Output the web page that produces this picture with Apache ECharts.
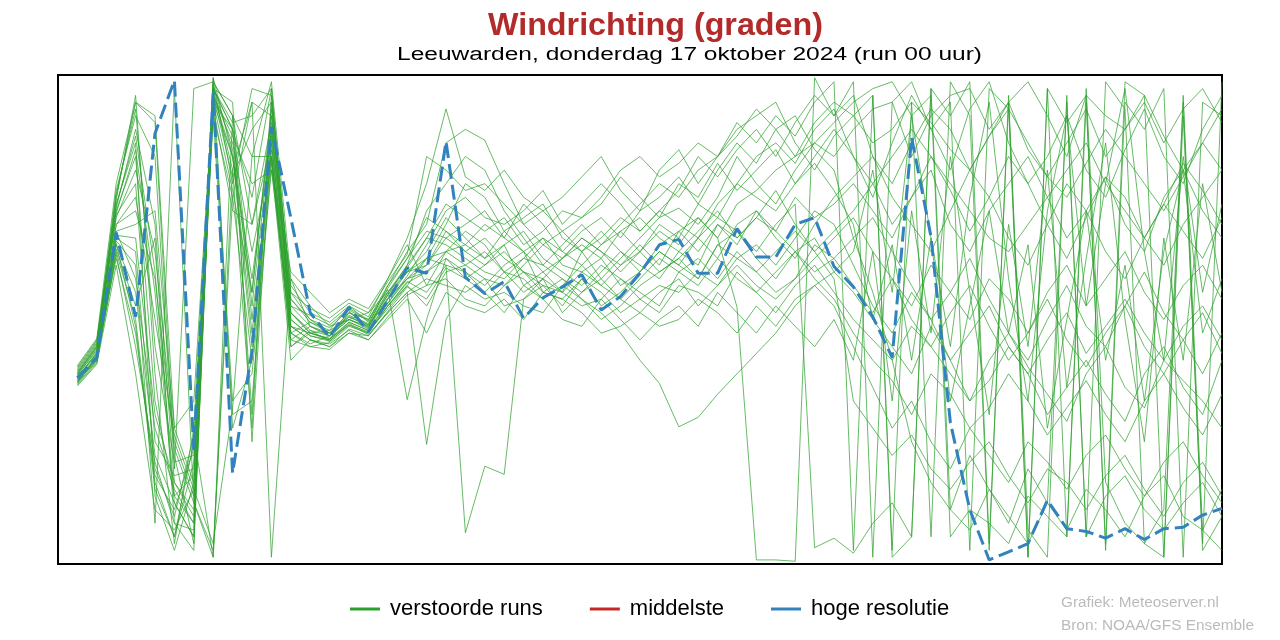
<!DOCTYPE html>
<html>
<head>
<meta charset="utf-8">
<script src="https://cdn.jsdelivr.net/npm/echarts@6/dist/echarts.min.js"></script>
<style>html,body{margin:0;padding:0;background:#fff}#c{width:1280px;height:640px}</style>
</head>
<body>
<div id="c"></div>
<script>
// Step index (3-hourly steps 1..60), values in degrees
const hres = [137,152,244,182,317,356,84,347,67,157,322,255,185,167,189,171,194,218,214,311,
  211,199,208,181,196,204,213,187,197,214,235,239,214,214,247,226,226,250,255,219,
  204,182,152,314,241,104,40,3,9,15,47,26,24,19,26,18,26,27,36,41];
const middelste = [];
const m01 = [138,155,262,320,250,60,40,345,300,200,330,190,175,168,182,175,198,215,230,255,
  240,225,235,205,215,200,230,210,225,240,255,262,250,270,300,280,265,290,310,300,
  320,335,340,300,330,345,350,320,340,355,330,300,345,330,320,340,310,335,350,325];
const m02 = [135,150,245,210,100,55,30,350,320,180,300,160,170,165,178,172,190,208,200,220,
  215,205,220,230,200,195,210,190,200,215,230,220,240,225,250,260,245,270,255,265,
  280,260,240,270,290,250,230,260,280,300,270,240,260,285,250,230,270,290,260,240];
const m03 = [140,160,270,340,325,80,15,355,280,350,345,200,180,170,185,180,205,230,250,310,
  320,312,280,250,235,225,240,230,215,230,250,240,265,255,280,300,310,295,320,335,
  300,270,310,345,320,290,335,355,310,280,300,330,290,270,305,335,300,280,320,345];
const m04 = [132,148,230,180,60,20,75,340,120,140,290,175,165,160,170,168,185,200,88,180,
  205,195,200,190,185,205,195,180,190,205,215,225,210,235,245,225,210,230,240,215,
  200,180,160,140,175,150,120,135,160,140,110,130,150,125,105,140,160,130,110,150];
const m05 = [145,165,255,290,230,90,50,330,270,150,320,185,170,172,190,178,200,220,240,235,
  225,215,210,225,220,210,200,215,230,220,210,230,245,260,240,255,275,250,230,245,
  260,280,300,320,300,280,260,240,230,250,270,290,310,280,260,240,220,250,270,290];
const m06 = [136,152,240,230,70,35,95,5,330,300,355,210,190,175,180,185,200,215,220,240,
  230,240,225,215,205,190,210,200,185,195,205,200,215,205,225,235,220,240,260,250,
  220,190,170,200,180,150,170,190,160,140,165,185,155,175,195,170,150,175,190,165];
const m07 = [139,158,265,310,50,10,60,350,290,100,340,170,160,163,175,170,190,205,225,250,
  280,270,245,230,240,220,215,205,220,235,220,245,255,240,265,275,290,300,310,325,
  340,350,355,330,345,20,40,30,15,50,35,20,350,60,30,15,40,340,10,35];
const m08 = [134,150,235,200,80,45,20,345,310,230,300,165,175,168,180,174,195,210,215,225,
  210,220,235,245,225,215,205,220,210,200,190,215,225,210,230,215,200,210,225,240,
  255,230,210,190,220,200,180,210,195,170,200,220,190,210,230,200,180,205,220,195];
const m09 = [142,162,275,330,300,70,350,355,330,250,310,180,168,165,185,176,205,225,245,240,
  250,260,240,265,250,230,245,255,240,260,270,285,265,290,310,295,320,330,305,290,
  240,200,150,90,60,40,80,55,30,70,45,25,55,40,20,50,65,35,25,55];
const m10 = [137,156,250,260,210,85,45,10,270,340,330,205,185,178,190,182,210,235,205,230,
  245,235,215,200,210,225,235,225,245,255,240,230,220,250,235,260,240,225,250,270,
  285,300,270,250,230,260,290,270,240,220,250,280,260,230,210,240,265,245,225,255];
const m11 = [133,153,225,170,65,40,85,330,110,120,295,150,165,162,172,165,180,195,170,200,
  190,185,195,180,200,195,185,170,175,185,175,180,195,185,170,190,175,195,205,190,
  160,130,100,120,90,70,100,80,60,90,75,55,80,95,70,50,75,90,65,45];
const m12 = [141,160,260,300,120,50,30,358,300,210,320,195,178,170,183,177,198,220,260,280,
  300,290,260,240,220,235,250,235,250,265,280,270,290,300,320,330,340,310,290,315,
  330,345,10,340,20,355,330,10,345,5,350,20,340,15,355,345,5,330,15,355];
const m13 = [138,154,245,250,260,100,60,340,320,270,350,175,170,166,176,171,188,205,190,215,
  220,210,205,220,235,245,230,240,255,245,260,250,240,265,280,270,260,280,295,275,
  250,180,235,150,240,120,190,260,170,235,100,180,260,150,220,120,230,290,170,210];
const m14 = [131,147,220,140,40,25,55,15,115,300,300,160,172,164,176,169,185,200,210,205,
  200,210,190,195,205,200,190,195,210,195,185,205,200,190,215,200,185,205,220,200,
  180,165,150,175,160,140,120,150,170,145,125,105,140,160,130,115,150,135,120,100];
const m15 = [144,164,268,345,140,15,100,350,340,90,315,170,162,168,180,173,192,212,235,260,
  270,255,250,260,275,250,265,280,265,245,260,275,300,285,305,320,300,325,345,330,
  355,5,340,355,320,340,10,350,335,5,350,325,345,10,340,320,350,5,340,330];
const m16 = [139,157,257,280,90,65,70,340,275,200,335,190,183,176,188,180,202,121,180,225,
  215,200,185,205,195,180,175,195,180,165,180,190,175,200,185,170,190,175,160,180,
  150,230,120,260,170,300,200,110,250,160,290,130,225,310,180,90,240,150,280,200];
const m17 = [136,151,238,220,30,350,45,5,290,340,5,210,175,170,182,176,196,210,225,230,
  235,225,245,255,265,240,230,245,230,215,235,245,230,250,240,255,245,230,215,225,
  205,185,210,180,160,185,205,175,150,170,195,165,145,170,190,160,140,165,185,155];
const m18 = [140,159,272,335,160,75,80,350,320,110,345,200,188,181,192,185,208,228,300,290,
  275,280,265,250,260,270,285,300,275,260,290,305,280,300,325,310,330,315,340,355,
  10,345,5,20,350,330,355,15,340,25,5,345,20,355,335,15,5,345,25,10];
const m19 = [135,150,232,190,240,30,25,358,100,150,300,175,165,160,173,168,186,204,195,218,
  210,200,215,210,195,205,220,205,195,210,225,215,205,225,210,200,215,230,210,195,
  170,150,135,110,140,125,100,115,140,120,95,115,135,110,90,120,140,115,95,125];
const m20 = [143,163,264,315,215,50,65,345,285,320,340,185,172,168,186,174,200,218,240,265,
  255,245,255,235,245,260,255,265,285,270,255,280,270,295,275,290,305,280,300,320,
  300,280,250,270,300,275,245,270,300,280,250,225,255,285,270,240,265,295,275,250];
const m21 = [134,152,242,240,110,60,35,352,305,170,310,170,178,172,180,175,195,215,225,220,
  23,72,66,195,210,200,215,225,205,215,230,220,210,235,225,215,230,245,230,210,
  120,100,80,95,70,55,75,90,65,45,70,60,40,65,80,55,35,60,75,50];
const m22 = [137,155,250,270,180,95,55,335,260,250,325,185,170,166,178,172,192,210,220,245,
  230,220,230,215,200,210,195,185,170,150,133,101,108,125,140,155,170,190,205,215,
  230,290,200,330,240,160,270,340,210,120,260,330,190,280,350,230,150,300,200,265];
const m23 = [141,161,258,305,200,45,20,350,325,330,350,195,180,174,187,179,203,225,255,245,
  235,250,240,230,215,225,240,230,220,230,245,235,255,240,189,3,3,2,358,330,
  345,300,280,310,335,320,290,315,340,305,285,310,335,300,320,345,315,290,310,335];
const m24 = [133,149,228,160,75,30,10,355,330,190,320,180,168,164,177,170,190,207,215,230,
  220,230,215,225,240,230,220,235,245,230,215,225,240,255,245,230,250,265,12,19,
  8,30,45,20,350,40,25,55,35,15,45,340,20,50,65,40,25,45,60,35];
const m25 = [146,166,280,340,330,100,120,345,315,280,290,215,200,185,195,188,210,240,280,335,
  285,275,290,270,260,245,255,270,290,300,285,295,310,300,315,335,320,300,325,340,
  330,310,320,340,325,305,290,315,335,310,285,270,295,320,300,280,260,285,310,290];
const m26 = [136,153,236,175,55,20,90,340,300,160,305,165,160,158,170,165,182,198,205,210,
  195,190,205,215,210,185,200,210,195,185,200,210,190,205,220,205,195,210,235,225,
  240,255,230,205,180,200,225,195,170,150,180,205,175,160,190,215,185,165,140,170];
const ensemble = [m01,m02,m03,m04,m05,m06,m07,m08,m09,m10,m11,m12,m13,m14,m15,m16,m17,m18,m19,m20,m21,m22,m23,m24,m25,m26];
const legendNames = ['verstoorde runs','middelste','hoge resolutie'];
const titleText = 'Windrichting (graden)';
const subtitleText = 'Leeuwarden, donderdag 17 oktober 2024 (run 00 uur)';
const creditLines = ['Grafiek: Meteoserver.nl','Bron: NOAA/GFS Ensemble'];

const toPairs = arr => arr.map((v,i)=>[i+1,v]);
const series = [];
ensemble.forEach(m => series.push({
  name: legendNames[0], type:'line', data: toPairs(m), symbol:'none', color:'#2ca02c',
  lineStyle:{width:0.8, color:'#2ca02c', opacity:0.9}, silent:true, z:2
}));
series.push({name: legendNames[1], type:'line', data: toPairs(middelste), symbol:'none', color:'#c62828',
  lineStyle:{width:2, color:'#c62828'}, z:3});
series.push({name: legendNames[2], type:'line', data: toPairs(hres), symbol:'none', color:'#3182bd',
  lineStyle:{width:3, color:'#3182bd', type:[15,6]}, z:4});

const mctx = document.createElement('canvas').getContext('2d');
function fitText(text, font, x, y, width, color){
  mctx.font = font;
  const w = mctx.measureText(text).width;
  return {type:'text', x:x, y:y, scaleX: width / w, z:10,
    style:{text:text, font:font, fill:color, textAlign:'left', textVerticalAlign:'middle', align:'left', verticalAlign:'middle'}};
}

const chart = echarts.init(document.getElementById('c'), null, {renderer:'canvas'});
chart.setOption({
  animation:false,
  backgroundColor:'#fff',
  graphic:[
    fitText(titleText, "bold 32px 'Liberation Sans'", 488, 26, 335, '#b22a2a'),
    fitText(subtitleText, "18px 'Liberation Sans'", 397, 55, 585, '#000'),
    fitText(creditLines[0], "14px 'Liberation Sans'", 1061, 603, 158, '#bbbbbb'),
    fitText(creditLines[1], "14px 'Liberation Sans'", 1061, 626, 193, '#bbbbbb')
  ],
  legend:{
    data:legendNames, left:350, top:598, padding:0, icon:'rect', itemWidth:30, itemHeight:3, itemGap:47,
    textStyle:{fontSize:22, color:'#000', fontFamily:'Liberation Sans', padding:[0,0,0,5]}
  },
  grid:{left:58, top:75, width:1164, height:489, show:true, borderColor:'#000', borderWidth:2, backgroundColor:'#fff'},
  xAxis:{type:'value', min:0, max:60, interval:10, axisLine:{show:false}, axisTick:{show:false}, axisLabel:{show:false}, splitLine:{show:false}},
  yAxis:{type:'value', min:0, max:360, interval:90, axisLine:{show:false}, axisTick:{show:false}, axisLabel:{show:false}, splitLine:{show:false}},
  series: series
});
</script>
</body>
</html>
